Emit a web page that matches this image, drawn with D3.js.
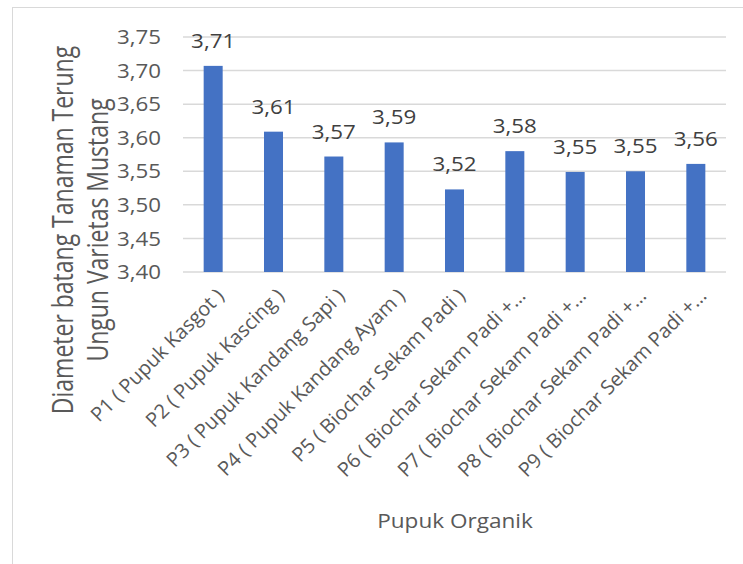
<!DOCTYPE html>
<html>
<head>
<meta charset="utf-8">
<script src="https://cdn.jsdelivr.net/npm/d3@7"></script>
<style>
  html, body { margin: 0; padding: 0; background: #fff; }
  svg { display: block; }
  text { font-family: "Open Sans", "Noto Sans", sans-serif; }
</style>
</head>
<body>
<div id="chart"></div>
<script>
const categories = [
  "P1 ( Pupuk Kasgot )",
  "P2 ( Pupuk Kascing )",
  "P3 ( Pupuk Kandang Sapi )",
  "P4 ( Pupuk Kandang Ayam )",
  "P5 ( Biochar Sekam Padi )",
  "P6 ( Biochar Sekam Padi +…",
  "P7 ( Biochar Sekam Padi +…",
  "P8 ( Biochar Sekam Padi +…",
  "P9 ( Biochar Sekam Padi +…"
];
const values = [3.707, 3.609, 3.572, 3.593, 3.523, 3.580, 3.549, 3.550, 3.561];
const yTicks = [3.40, 3.45, 3.50, 3.55, 3.60, 3.65, 3.70, 3.75];
const yTitleLines = ["Diameter batang Tanaman Terung", "Ungun Varietas Mustang"];
const xTitle = "Pupuk Organik";

const W = 743, H = 564;
const plot = { left: 183, right: 726, top: 37, bottom: 272 };

const svg = d3.select("#chart").append("svg").attr("width", W).attr("height", H);

svg.append("rect")
  .attr("x", 12.5).attr("y", 7.5).attr("width", 760).attr("height", 600)
  .attr("fill", "#fff").attr("stroke", "#d9d9d9").attr("stroke-width", 1);

const x = d3.scaleBand().domain(categories).range([plot.left, plot.right])
  .paddingInner(0.685).paddingOuter(0.3425);
const y = d3.scaleLinear().domain([3.40, 3.75]).range([plot.bottom, plot.top]);
const fmt = v => d3.format(".2f")(v).replace(".", ",");

// gridlines
svg.append("g").selectAll("line").data(yTicks).join("line")
  .attr("x1", plot.left).attr("x2", plot.right)
  .attr("y1", d => y(d)).attr("y2", d => y(d))
  .attr("stroke", "#d9d9d9").attr("stroke-width", 1.5);

// y tick labels
svg.append("g").selectAll("text").data(yTicks).join("text")
  .attr("transform", d => `translate(161,${y(d)}) scale(1.09,1)`)
  .attr("dy", "0.35em").attr("text-anchor", "end")
  .attr("font-size", 20.5).attr("fill", "#595959")
  .text(d => fmt(d));

// bars
svg.append("g").selectAll("rect").data(values).join("rect")
  .attr("x", (d, i) => x(categories[i]))
  .attr("width", x.bandwidth())
  .attr("y", d => y(d))
  .attr("height", d => y(3.40) - y(d))
  .attr("fill", "#4472c4");

// value labels
svg.append("g").selectAll("text").data(values).join("text")
  .attr("transform", (d, i) => `translate(${x(categories[i]) + x.bandwidth() / 2},${y(d) - 18}) scale(1.09,1)`)
  .attr("text-anchor", "middle")
  .attr("font-size", 20.5).attr("fill", "#404040")
  .text(d => fmt(d));

// x tick labels
svg.append("g").selectAll("text").data(categories).join("text")
  .attr("transform", d => `translate(${x(d) + x.bandwidth() / 2 + 12},297) rotate(-45)`)
  .attr("text-anchor", "end")
  .attr("font-size", 20).attr("fill", "#595959")
  .text(d => d);

// x title
svg.append("text")
  .attr("transform", `translate(455,528) scale(1.1,1)`)
  .attr("text-anchor", "middle")
  .attr("font-size", 20.5).attr("fill", "#595959")
  .text(xTitle);

// y title
const yt = svg.append("text")
  .attr("transform", `translate(73,230) scale(1.3,1) rotate(-90)`)
  .attr("text-anchor", "middle")
  .attr("font-size", 23).attr("fill", "#595959");
yt.selectAll("tspan").data(yTitleLines).join("tspan")
  .attr("x", 0).attr("y", (d, i) => i * 27)
  .text(d => d);
</script>
</body>
</html>
